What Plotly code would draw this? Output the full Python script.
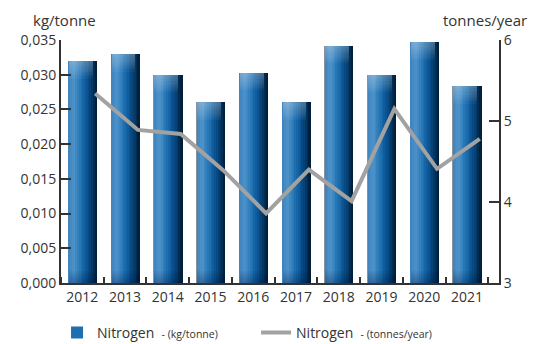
import plotly.graph_objects as go

years = ["2012", "2013", "2014", "2015", "2016", "2017", "2018", "2019", "2020", "2021"]
kg_per_tonne = [0.0320, 0.0330, 0.0300, 0.0260, 0.0303, 0.0260, 0.0342, 0.0300, 0.0347, 0.0284]
tonnes_per_year = [5.34, 4.89, 4.84, 4.39, 3.86, 4.40, 4.01, 5.15, 4.41, 4.78]

idx = list(range(len(years)))

def hex2rgb(h):
    h = h.lstrip('#')
    return tuple(int(h[i:i + 2], 16) for i in (0, 2, 4))

stops = [(0.0, "#3d82bd"), (0.2, "#4e94ca"), (0.45, "#2072b3"),
         (0.65, "#0b5493"), (0.85, "#033865"), (1.0, "#001a33")]

def grad(t):
    for (t0, c0), (t1, c1) in zip(stops[:-1], stops[1:]):
        if t0 <= t <= t1:
            a, b = hex2rgb(c0), hex2rgb(c1)
            f = (t - t0) / (t1 - t0)
            return "rgb(%d,%d,%d)" % tuple(round(a[k] + (b[k] - a[k]) * f) for k in range(3))
    return stops[-1][1]

fig = go.Figure()

BW = 0.68
# gray outline bar underneath
fig.add_trace(go.Bar(x=idx, y=kg_per_tonne, width=BW, offset=-BW / 2,
                     marker=dict(color="#8a9099", line=dict(width=0)),
                     showlegend=False, hoverinfo="skip"))
N = 16
inner = BW - 0.025
sw = inner / N
bar_name = "Nitrogen  <span style='font-size:10.5px'>- (kg/tonne)</span>"
for i in range(N):
    fig.add_trace(go.Bar(
        x=idx, y=kg_per_tonne, width=sw + 0.004, offset=-BW / 2 + 0.025 + i * sw,
        marker=dict(color=grad((i + 0.5) / N), line=dict(width=0)),
        name=bar_name, showlegend=(i == 7), legendrank=1, hoverinfo="skip"))

# soft top highlight and bottom shade (thin layered overlays)
for k in range(1, 9):
    h = 0.00032 * k
    fig.add_trace(go.Bar(
        x=idx, y=[h] * len(idx), base=[v - h for v in kg_per_tonne],
        width=inner * 0.85, offset=-BW / 2 + 0.025,
        marker=dict(color="rgba(255,255,255,0.04)", line=dict(width=0)),
        showlegend=False, hoverinfo="skip"))
for k in range(1, 7):
    h = 0.0003 * k
    fig.add_trace(go.Bar(
        x=idx, y=[h] * len(idx), base=[0] * len(idx),
        width=inner, offset=-BW / 2 + 0.025,
        marker=dict(color="rgba(0,20,50,0.05)", line=dict(width=0)),
        showlegend=False, hoverinfo="skip"))

fig.add_trace(go.Scatter(
    x=[i + 0.3 for i in idx], y=tonnes_per_year, yaxis="y2", mode="lines",
    line=dict(color="#a2a2a2", width=4), legendrank=2,
    name="Nitrogen  <span style='font-size:10.5px'>- (tonnes/year)</span>"))

axis_col = "#333333"
fig.update_layout(
    width=537, height=344,
    margin=dict(l=61, r=38, t=40, b=61, autoexpand=False),
    paper_bgcolor="white", plot_bgcolor="white",
    barmode="overlay", bargap=0,
    separators=", ",
    font=dict(family="Open Sans", size=14, color="#333333"),
    xaxis=dict(range=[-0.5, 9.75], tickvals=idx, ticktext=years, ticks="",
               showline=True, linecolor=axis_col, linewidth=2,
               showgrid=False, zeroline=False,
               minor=dict(tick0=0.5, dtick=1, ticks="inside", ticklen=6,
                          tickcolor=axis_col, tickwidth=2, showgrid=False)),
    yaxis=dict(range=[0, 0.035], dtick=0.005, tickformat=".3f",
               ticks="inside", ticklen=10, tickwidth=2, tickcolor=axis_col,
               showline=True, linecolor=axis_col, linewidth=2,
               showgrid=False, zeroline=False),
    yaxis2=dict(range=[3, 6], dtick=1, overlaying="y", side="right",
                ticks="inside", ticklen=10, tickwidth=2, tickcolor=axis_col,
                showline=True, linecolor=axis_col, linewidth=2,
                showgrid=False, zeroline=False),
    legend=dict(orientation="h", x=-0.009, y=-0.205, xanchor="left", yanchor="middle",
                entrywidth=154, font=dict(size=14, color="#333333"),
                bgcolor="rgba(0,0,0,0)", traceorder="normal"),
    annotations=[
        dict(text="kg/tonne", x=3 / 438, y=1.082, xref="paper", yref="paper",
             xanchor="center", yanchor="middle", showarrow=False, font=dict(size=15)),
        dict(text="tonnes/year", x=(485 - 61) / 438, y=1.082, xref="paper", yref="paper",
             xanchor="center", yanchor="middle", showarrow=False, font=dict(size=15)),
    ],
)

fig.write_html("out.html")
